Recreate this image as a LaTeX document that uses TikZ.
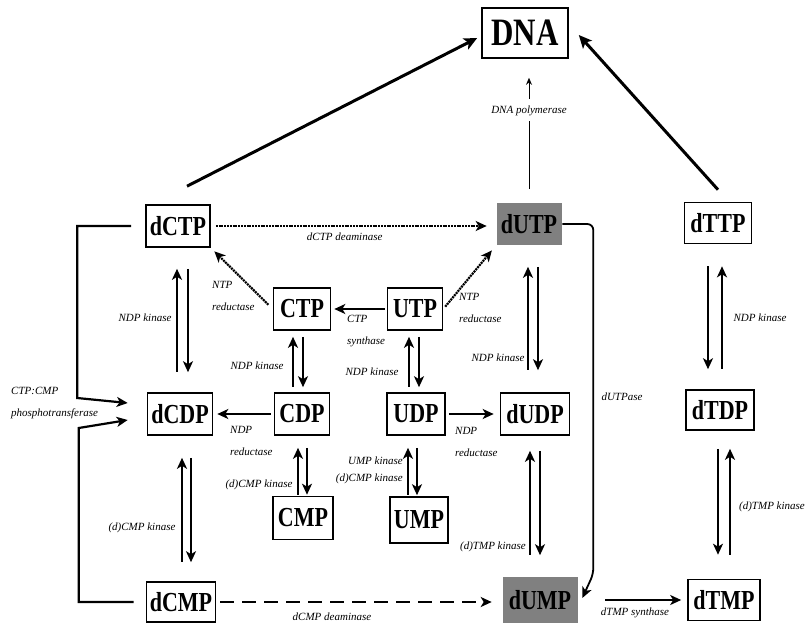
\documentclass[tikz,border=0pt]{standalone}
\usepackage{fontspec}
\setmainfont{Liberation Serif}
\usetikzlibrary{arrows.meta,calc}
\newcommand{\tall}[1]{\scalebox{1}[1.25]{#1}}
\tikzset{
   nuc/.style={draw, line width=1.6pt, inner sep=0pt, minimum height=42pt,
               font=\fontsize{22}{24}\selectfont\bfseries},
   dark/.style={nuc, draw=none, fill=black!50},
   enz/.style={font=\fontsize{11}{22}\selectfont\itshape, inner sep=0pt},
   flow/.style={line width=2.2pt, ->},
   big/.style={flow, line width=3pt, -{Stealth[length=13pt,width=12pt,inset=3pt]}},
   pair/.style={line width=2.2pt},
   dotline/.style={flow, dash pattern=on 2pt off 0.8pt},
   dashline/.style={flow, dash pattern=on 14pt off 8pt}
}
\begin{document}
\begin{tikzpicture}[x=1pt, y=-1pt, >={Stealth[length=11pt,width=10pt,inset=3pt]}]
\useasboundingbox (0,0) rectangle (807,625);

% nucleotides
\node[nuc, minimum width=86pt, minimum height=50pt, font=\fontsize{31}{33}\selectfont\bfseries] (DNA) at (525,33) {\tall{DNA}};
\node[nuc, minimum width=64pt] (dCTP) at (178,226) {\tall{dCTP}};
\node[dark, minimum width=65pt] (dUTP) at (529,224) {\tall{dUTP}};
\node[nuc, minimum width=67pt, minimum height=41pt] (dTTP) at (718,223) {\tall{dTTP}};
\node[nuc, minimum width=57pt] (CTP) at (302,309) {\tall{CTP}};
\node[nuc, minimum width=55pt] (UTP) at (415,309) {\tall{UTP}};
\node[nuc, minimum width=65pt] (dCDP) at (180,414) {\tall{dCDP}};
\node[nuc, minimum width=55pt] (CDP) at (302,414) {\tall{CDP}};
\node[nuc, minimum width=58pt] (UDP) at (416,414) {\tall{UDP}};
\node[nuc, minimum width=69pt] (dUDP) at (535,414) {\tall{dUDP}};
\node[nuc, minimum width=68pt, minimum height=40pt] (dTDP) at (720,410) {\tall{dTDP}};
\node[nuc, minimum width=60pt, minimum height=43pt] (CMP) at (303,518) {\tall{CMP}};
\node[nuc, minimum width=58pt, minimum height=46pt] (UMP) at (419,520) {\tall{UMP}};
\node[nuc, minimum width=69pt, minimum height=40pt] (dCMP) at (181,602) {\tall{dCMP}};
\node[dark, minimum width=75pt, minimum height=46pt] (dUMP) at (540,600) {\tall{dUMP}};
\node[nuc, minimum width=72pt, minimum height=41pt] (dTMP) at (724,600) {\tall{dTMP}};

% into DNA
\draw[big] ([xshift=9pt,yshift=18pt]dCTP.north) -- ([xshift=-4pt,yshift=-5pt]DNA.west);
\draw[big] ([yshift=12pt]dTTP.north) -- ([xshift=10pt,yshift=-2pt]DNA.east);
\draw[line width=0.9pt, -{Stealth[length=7pt,width=6pt]}, shorten <=13pt, shorten >=19pt] (dUTP.north) --
   node[enz, fill=white, pos=0.64, inner xsep=2pt, inner ysep=6pt] (pol) {DNA polymerase} (dUTP.north |- DNA.south);

% kinase steps, up and down
\foreach \u/\d/\xa/\xb/\st/\sb in {dCTP/dCDP/-1pt/10pt/21pt/20pt, CTP/CDP/-9pt/1pt/6pt/5pt,
      UTP/UDP/-6pt/4pt/6pt/5pt, dUTP/dUDP/-1pt/9pt/21pt/22pt, dTTP/dTDP/4pt/-10pt/22pt/20pt,
      dCDP/dCMP/2pt/11pt/22pt/19pt, CDP/CMP/-4pt/5pt/12pt/1pt, UDP/UMP/-8pt/1pt/12pt/1pt,
      dUDP/dUMP/-5pt/5pt/15pt/21pt, dTDP/dTMP/10pt/-2pt/18pt/24pt}{
   \draw[pair, <-, shorten <=\st, shorten >=\sb] ([xshift=\xa]\u.south) -- ([xshift=\xa]\u.south |- \d.north);
   \draw[pair, ->, shorten <=\st, shorten >=\sb] ([xshift=\xb]\u.south) -- ([xshift=\xb]\u.south |- \d.north);
}

% other steps
\draw[dotline, shorten <=5pt, shorten >=9pt] (dCTP.east) --
   node[enz, below=6pt, pos=0.47] (cdeam) {dCTP deaminase} (dCTP.east -| dUTP.west);
\draw[dotline, shorten <=6pt, shorten >=5pt] (CTP.west) -- (dCTP.south east);
\draw[dotline, shorten <=3pt, shorten >=6pt] (UTP.east) -- (dUTP.south west);
\draw[flow, shorten <=2pt, shorten >=3pt] (UTP.west) -- (CTP.east);
\draw[flow, shorten <=3pt, shorten >=4pt] (CDP.west) -- (dCDP.east);
\draw[flow, shorten <=3pt, shorten >=6pt] (UDP.east) -- (dUDP.west);
\draw[dashline, shorten <=4pt, shorten >=10pt] (dCMP.east) -- (dCMP.east -| dUMP.west);
\draw[flow, shorten <=27pt, shorten >=6pt] (dUMP.east) -- (dUMP.east -| dTMP.west);
\draw[flow, line width=1.8pt, rounded corners=6pt] (dUTP.east) -- ++(31,0) -- ++(0,350) -- ([xshift=4pt,yshift=2pt]dUMP.east);
\draw[flow] ([xshift=-14pt]dCTP.west) -- ++(-54,0) -- ++(0,172) -- ([xshift=-19pt,yshift=11pt]dCDP.west);
\draw[flow] ([xshift=-12pt]dCMP.west) -- ++(-55,0) -- ++(0,-174) -- ([xshift=-19pt,yshift=-6pt]dCDP.west);

% enzymes
\node[enz, align=left, anchor=west] (ntpl) at (212,296) {NTP\\reductase};
\node[enz, align=left, anchor=west] (ntpr) at (459,308) {NTP\\reductase};
\node[enz, align=left, anchor=west] (synth) at (347,331) {CTP\\synthase};
\node[enz, align=left, anchor=west] (redl) at (230,441) {NDP\\reductase};
\node[enz, align=left, anchor=west] (redr) at (455,442) {NDP\\reductase};
\node[enz, align=left, anchor=west] (ptr) at (11,403) {CTP:CMP\\phosphotransferase};
\node[enz, align=right, anchor=east] (umpk) at (403,470) {UMP kinase\\[-5pt](d)CMP kinase};
\node[enz] (kin1) at (145,318) {NDP kinase};
\node[enz] (kin2) at (257,366) {NDP kinase};
\node[enz] (kin3) at (372,372) {NDP kinase};
\node[enz] (kin4) at (498,358) {NDP kinase};
\node[enz] (kin5) at (760,318) {NDP kinase};
\node[enz] (cmpk1) at (142,528) {(d)CMP kinase};
\node[enz] (cmpk2) at (259,485) {(d)CMP kinase};
\node[enz] (tmpk1) at (493,547) {(d)TMP kinase};
\node[enz] (tmpk2) at (772,507) {(d)TMP kinase};
\node[enz] (dutpase) at (622,397) {dUTPase};
\node[enz] (ddeam) at (332,617) {dCMP deaminase};
\node[enz] (tsyn) at (635,613) {dTMP synthase};
\end{tikzpicture}
\end{document}
